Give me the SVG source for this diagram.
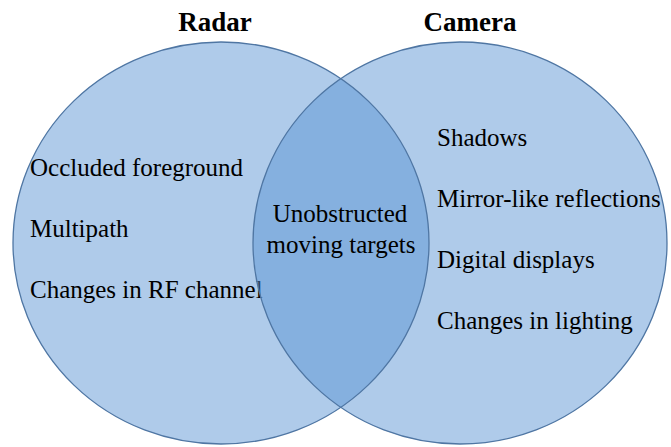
<svg xmlns="http://www.w3.org/2000/svg" width="671" height="447" viewBox="0 0 671 447" font-family="'Liberation Serif', 'Times New Roman', serif">
<style>
.set{fill:rgb(87,147,211);fill-opacity:0.48;stroke:none}
.edge{fill:none;stroke:#4f76a3;stroke-width:1.3}
.title{font-weight:bold;font-size:27px;fill:#000;text-anchor:middle}
.item{font-size:25px;fill:#000}
.mid{text-anchor:middle}
</style>
<rect width="671" height="447" fill="#fff"/>
<g id="radar">
<ellipse class="set" cx="221" cy="243" rx="208" ry="201"/>
<text class="title" x="215" y="31" font-family="'Liberation Serif', serif">Radar</text>
<text class="item" x="30" y="176" font-family="'Liberation Serif', serif">Occluded foreground</text>
<text class="item" x="30" y="237" font-family="'Liberation Serif', serif">Multipath</text>
<text class="item" x="30" y="298" font-family="'Liberation Serif', serif">Changes in RF channel</text>
</g>
<g id="camera">
<ellipse class="set" cx="460" cy="243" rx="207" ry="201"/>
<text class="title" x="470" y="31" font-family="'Liberation Serif', serif">Camera</text>
<text class="item" x="437" y="146" font-family="'Liberation Serif', serif">Shadows</text>
<text class="item" x="437" y="207" font-family="'Liberation Serif', serif">Mirror-like reflections</text>
<text class="item" x="437" y="268" font-family="'Liberation Serif', serif">Digital displays</text>
<text class="item" x="437" y="329" font-family="'Liberation Serif', serif">Changes in lighting</text>
</g>
<g id="overlap">
<text class="item mid" x="340" y="222" font-family="'Liberation Serif', serif">Unobstructed</text>
<text class="item mid" x="341" y="253" font-family="'Liberation Serif', serif">moving targets</text>
</g>
<g id="connectors">
<ellipse class="edge" cx="221" cy="243" rx="208" ry="201"/>
<ellipse class="edge" cx="460" cy="243" rx="207" ry="201"/>
</g>
</svg>
